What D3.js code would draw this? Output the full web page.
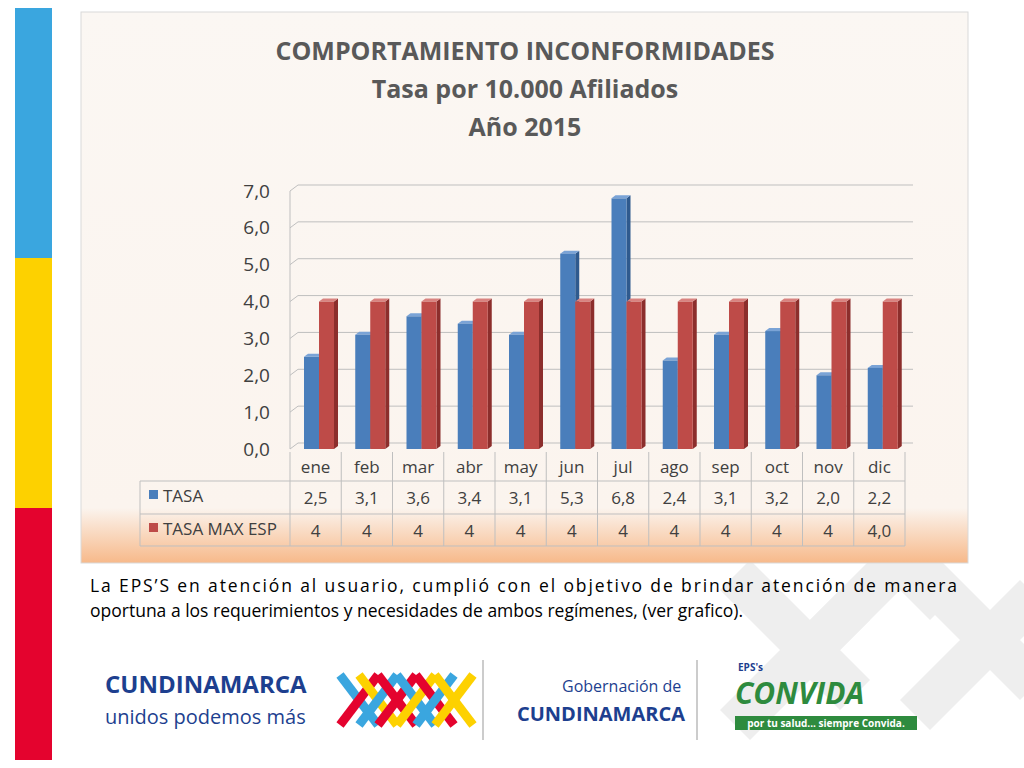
<!DOCTYPE html>
<html><head><meta charset="utf-8">
<script src="https://cdn.jsdelivr.net/npm/d3@7"></script>
<style>body{margin:0;background:#fff;font-family:"Open Sans","Liberation Sans",sans-serif}</style>
</head><body>
<script>
var months = ["ene","feb","mar","abr","may","jun","jul","ago","sep","oct","nov","dic"];
var tasa = [2.5,3.1,3.6,3.4,3.1,5.3,6.8,2.4,3.1,3.2,2.0,2.2];
var tasaMax = [4,4,4,4,4,4,4,4,4,4,4,4];
var tasaMaxLabels = ["4","4","4","4","4","4","4","4","4","4","4","4,0"];
var yTicks = [0,1,2,3,4,5,6,7];
var titleLines = ["COMPORTAMIENTO INCONFORMIDADES","Tasa por 10.000 Afiliados","Año 2015"];

var svg = d3.select("body").append("svg").attr("width",1024).attr("height",768);
var defs = svg.append("defs");
var g1 = defs.append("linearGradient").attr("id","bg").attr("x1",0).attr("y1",0).attr("x2",0).attr("y2",1);
g1.append("stop").attr("offset","0").attr("stop-color","#fbf7f3");
g1.append("stop").attr("offset","0.9").attr("stop-color","#fbf4ee");
g1.append("stop").attr("offset","1").attr("stop-color","#f7b98a");

// background gray X shapes
var xs = svg.append("g").attr("fill","#eeeeee");
[[870,560],[960,640],[780,650]].forEach(function(p){
  xs.append("path").attr("d","M"+(p[0]-60)+","+(p[1]-60)+"l30,-30l120,120l-30,30z M"+(p[0]+60)+","+(p[1]-60)+"l30,30l-120,120l-30,-30z");
});

// left colour strip
svg.append("rect").attr("x",15).attr("y",8).attr("width",37).attr("height",250).attr("fill","#3aa6df");
svg.append("rect").attr("x",15).attr("y",258).attr("width",37).attr("height",250).attr("fill","#fdd100");
svg.append("rect").attr("x",15).attr("y",508).attr("width",37).attr("height",252).attr("fill","#e4032e");

// chart panel
svg.append("rect").attr("x",81).attr("y",12).attr("width",887).attr("height",551)
  .attr("fill","url(#bg)").attr("stroke","#d9d9d9");

svg.selectAll(".title").data(titleLines).enter().append("text")
  .attr("x",525).attr("y",function(d,i){return 60+i*38;})
  .attr("text-anchor","middle").attr("font-size",25).attr("font-weight","bold")
  .attr("fill","#595959").text(function(d){return d;});

var left=290, right=905, dx=8, dy=-6;
var x = d3.scaleBand().domain(months).range([left,right]);
var y = d3.scaleLinear().domain([0,7]).range([449,191]);

// back wall grid
var grid = svg.append("g");
grid.selectAll("path").data(yTicks).enter().append("path")
  .attr("d",function(d){return "M"+left+","+y(d)+"l"+dx+","+dy+"H"+(right+dx);})
  .attr("fill","none").attr("stroke","#bfbfbf");
grid.append("path").attr("d","M"+left+","+y(0)+"V"+y(7)).attr("stroke","#bfbfbf");

var yAxis = d3.axisLeft(y).tickValues(yTicks).tickSize(0).tickPadding(20)
  .tickFormat(function(d){return d3.format(".1f")(d).replace(".",",");});
var ax = svg.append("g").attr("transform","translate("+left+",0)").call(yAxis);
ax.select(".domain").remove();
ax.selectAll("text").attr("font-size",19).attr("fill","#404040").attr("font-family","Open Sans, sans-serif");

function bars(data, cls, off, colors){
  var bw = 15;
  var gg = svg.append("g");
  data.forEach(function(v,i){
    var x0 = x(months[i]) + off, y0 = y(v), y1 = y(0);
    gg.append("path").attr("d","M"+(x0+bw)+","+y0+"l"+dx/2+","+dy/2+"V"+(y1+dy/2)+"l"+(-dx/2)+","+(-dy/2)+"z").attr("fill",colors[2]);
    gg.append("path").attr("d","M"+x0+","+y0+"l"+dx/2+","+dy/2+"h"+bw+"l"+(-dx/2)+","+(-dy/2)+"z").attr("fill",colors[1]);
    gg.append("rect").attr("class",cls).attr("x",x0).attr("y",y0).attr("width",bw).attr("height",y1-y0).attr("fill",colors[0]);
  });
}
bars(tasa,"tasa",14,["#4a7ebb","#7aa3d6","#2f5a8e"]);
bars(tasaMax,"max",29,["#be4b48","#d98380","#8c2e2c"]);

// data table
var tx0 = 140, rows=[452,481,514,546];
var tb = svg.append("g").attr("stroke","#bfbfbf").attr("fill","none");
tb.append("path").attr("d","M"+left+","+rows[0]+"V"+rows[3]);
x.domain().forEach(function(m){tb.append("path").attr("d","M"+(x(m)+x.bandwidth())+","+rows[0]+"V"+rows[3]);});
tb.append("path").attr("d","M"+tx0+","+rows[1]+"H"+right+"M"+tx0+","+rows[2]+"H"+right+"M"+tx0+","+rows[3]+"H"+right+"M"+tx0+","+rows[1]+"V"+rows[3]);

var tt = svg.append("g").attr("font-size",17).attr("fill","#404040").attr("text-anchor","middle");
months.forEach(function(m,i){
  var cx = x(m)+x.bandwidth()/2;
  tt.append("text").attr("x",cx).attr("y",473).text(m);
  tt.append("text").attr("x",cx).attr("y",504).text(d3.format(".1f")(tasa[i]).replace(".",","));
  tt.append("text").attr("x",cx).attr("y",537).text(tasaMaxLabels[i]);
});
svg.append("rect").attr("x",149).attr("y",490).attr("width",9).attr("height",9).attr("fill","#4a7ebb");
svg.append("rect").attr("x",149).attr("y",523).attr("width",9).attr("height",9).attr("fill","#be4b48");
svg.append("text").attr("x",163).attr("y",502).attr("font-size",17).attr("fill","#404040").text("TASA");
svg.append("text").attr("x",163).attr("y",535).attr("font-size",17).attr("fill","#404040").text("TASA MAX ESP");

// paragraph
svg.append("text").attr("x",90).attr("y",592).attr("font-size",17.5).attr("fill","#000")
  .attr("textLength",867).attr("lengthAdjust","spacing")
  .text("La EPS’S en atención al usuario, cumplió con el objetivo de brindar atención de manera");
svg.append("text").attr("x",90).attr("y",617).attr("font-size",17.5).attr("fill","#000")
  .text("oportuna a los requerimientos y necesidades de ambos regímenes, (ver grafico).");

// logos (approximate, as text)
svg.append("text").attr("x",105).attr("y",693).attr("font-size",24).attr("font-weight","bold").attr("fill","#1d3f8f").text("CUNDINAMARCA");
svg.append("text").attr("x",105).attr("y",724).attr("font-size",20).attr("fill","#1d3f8f").text("unidos podemos más");
var logoCols=["#3aa6df","#fdd100","#e4032e","#3aa6df","#e4032e","#fdd100"];
logoCols.forEach(function(c,i){
  svg.append("path").attr("d","M"+(340+i*19)+",675l38,50").attr("stroke",c).attr("stroke-width",9);
  svg.append("path").attr("d","M"+(378+i*19)+",675l-38,50").attr("stroke",logoCols[(i+2)%6]).attr("stroke-width",9);
});
svg.append("path").attr("d","M483,660V740M697,660V740").attr("stroke","#999");
svg.append("text").attr("x",562).attr("y",692).attr("font-size",16).attr("fill","#1d3f8f").text("Gobernación de");
svg.append("text").attr("x",517).attr("y",721).attr("font-size",20).attr("font-weight","bold").attr("fill","#1d3f8f").text("CUNDINAMARCA");
svg.append("text").attr("x",738).attr("y",671).attr("font-size",10).attr("font-weight","bold").attr("fill","#1d3f8f").text("EPS's");
svg.append("text").attr("x",735).attr("y",704).attr("font-size",30).attr("font-weight","bold").attr("font-style","italic").attr("fill","#2e8b3e").text("CONVIDA");
svg.append("rect").attr("x",735).attr("y",716).attr("width",182).attr("height",14).attr("fill","#2e8b3e");
svg.append("text").attr("x",826).attr("y",727).attr("text-anchor","middle").attr("font-size",10).attr("font-weight","bold").attr("fill","#fff").text("por tu salud... siempre Convida.");
</script>
</body></html>
